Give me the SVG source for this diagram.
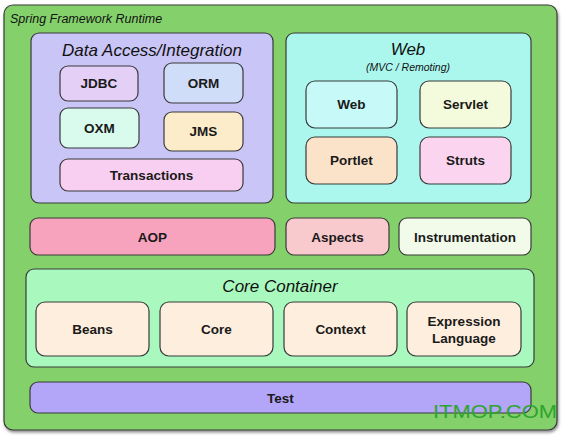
<svg xmlns="http://www.w3.org/2000/svg" width="563" height="438" viewBox="0 0 563 438">
<defs>
<filter id="sh" x="-5%" y="-5%" width="110%" height="110%">
<feDropShadow dx="1" dy="2" stdDeviation="1.5" flood-color="#000" flood-opacity="0.45"/>
</filter>
</defs>
<style>
.box{stroke:#3a3a3a;stroke-width:1.2}
.lbl{font-family:"Liberation Sans",Arial,sans-serif;font-weight:bold;font-size:13.5px;fill:#1a1a1a;text-anchor:middle}
.ttl{font-family:"Liberation Sans",Arial,sans-serif;font-style:italic;font-size:17px;fill:#111;text-anchor:middle}
</style>
<rect width="563" height="438" fill="#ffffff"/>
<g id="runtime">
<rect class="box" x="4" y="5" width="553" height="425" rx="9" fill="#84d16c" filter="url(#sh)"/>
<text x="10" y="23" style="font-family:'Liberation Sans',Arial,sans-serif;font-style:italic;font-size:12.5px;fill:#111">Spring Framework Runtime</text>
</g>
<g id="data-access">
<rect class="box" x="31" y="33" width="242" height="170" rx="8" fill="#c9c5f6"/>
<text class="ttl" x="152" y="56">Data Access/Integration</text>
</g>
<g id="jdbc"><rect class="box" x="60" y="66" width="78" height="35" rx="8" fill="#e4d0f6"/><text class="lbl" x="99" y="88">JDBC</text></g>
<g id="orm"><rect class="box" x="164" y="63" width="79" height="40" rx="8" fill="#d0ddf8"/><text class="lbl" x="203.5" y="88">ORM</text></g>
<g id="oxm"><rect class="box" x="60" y="108" width="79" height="40" rx="8" fill="#d8fbee"/><text class="lbl" x="99.5" y="133">OXM</text></g>
<g id="jms"><rect class="box" x="164" y="112" width="79" height="39" rx="8" fill="#fcecca"/><text class="lbl" x="203.5" y="136">JMS</text></g>
<g id="transactions"><rect class="box" x="60" y="159" width="183" height="32" rx="8" fill="#f9cff1"/><text class="lbl" x="151.5" y="180">Transactions</text></g>
<g id="web-group">
<rect class="box" x="286" y="33" width="245" height="170" rx="8" fill="#abf7ee"/>
<text class="ttl" x="408" y="55">Web</text>
<text x="408" y="71" style="font-family:'Liberation Sans',Arial,sans-serif;font-style:italic;font-size:10.5px;fill:#111;text-anchor:middle">(MVC / Remoting)</text>
</g>
<g id="web"><rect class="box" x="306" y="81" width="91" height="47" rx="9" fill="#c6f9f8"/><text class="lbl" x="351.5" y="109">Web</text></g>
<g id="servlet"><rect class="box" x="420" y="81" width="91" height="47" rx="9" fill="#f4fbdc"/><text class="lbl" x="465.5" y="109">Servlet</text></g>
<g id="portlet"><rect class="box" x="306" y="137" width="91" height="47" rx="9" fill="#fbe3c9"/><text class="lbl" x="351.5" y="165">Portlet</text></g>
<g id="struts"><rect class="box" x="420" y="137" width="91" height="47" rx="9" fill="#fbd5f0"/><text class="lbl" x="465.5" y="165">Struts</text></g>
<g id="aop"><rect class="box" x="30" y="218" width="245" height="37" rx="8" fill="#f8a3be"/><text class="lbl" x="152.5" y="242">AOP</text></g>
<g id="aspects"><rect class="box" x="286" y="218" width="103" height="37" rx="8" fill="#f8c9cd"/><text class="lbl" x="337.5" y="242">Aspects</text></g>
<g id="instrumentation"><rect class="box" x="399" y="218" width="132" height="37" rx="8" fill="#f2fbe9"/><text class="lbl" x="465" y="242">Instrumentation</text></g>
<g id="core-container">
<rect class="box" x="26" y="269" width="508" height="98" rx="8" fill="#a9f8bd"/>
<text class="ttl" x="280" y="292">Core Container</text>
</g>
<g id="beans"><rect class="box" x="36" y="302" width="113" height="54" rx="9" fill="#fdeedd"/><text class="lbl" x="92.5" y="334">Beans</text></g>
<g id="core"><rect class="box" x="160" y="302" width="113" height="54" rx="9" fill="#fdeedd"/><text class="lbl" x="216.5" y="334">Core</text></g>
<g id="context"><rect class="box" x="284" y="302" width="113" height="54" rx="9" fill="#fdeedd"/><text class="lbl" x="340.5" y="334">Context</text></g>
<g id="expression-language"><rect class="box" x="407" y="302" width="114" height="54" rx="9" fill="#fdeedd"/><text class="lbl" x="464" y="326">Expression</text><text class="lbl" x="464" y="343">Language</text></g>
<g id="test"><rect class="box" x="30" y="382" width="501" height="31" rx="8" fill="#b3a5f8"/><text class="lbl" x="280.5" y="403">Test</text></g>
<g id="connectors"></g>
<text x="433" y="418" textLength="124" lengthAdjust="spacingAndGlyphs" style="font-family:'Liberation Sans',Arial,sans-serif;font-size:19px;fill:#2ea42e">ITMOP.COM</text>
</svg>
